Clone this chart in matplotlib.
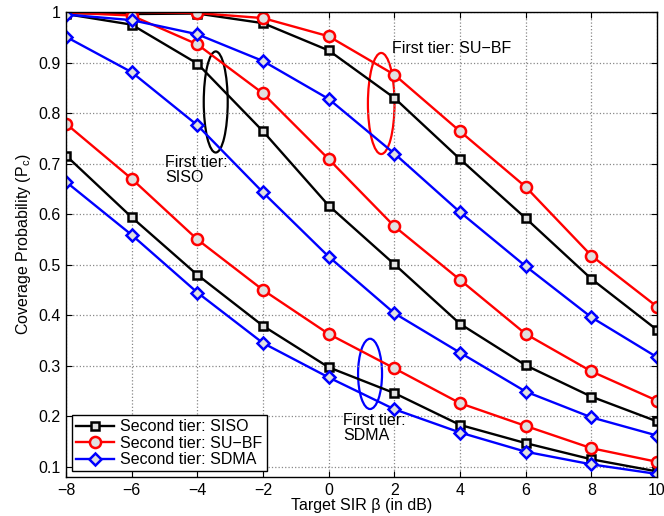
import matplotlib
matplotlib.use("Agg")
from matplotlib import pyplot as plt
from matplotlib.patches import Ellipse

plt.rcParams['font.family'] = ['Liberation Sans', 'DejaVu Sans']
plt.rcParams['mathtext.fontset'] = 'custom'
plt.rcParams['mathtext.rm'] = 'Liberation Sans'

sir_db = [-8, -6, -4, -2, 0, 2, 4, 6, 8, 10]

# first tier (top group of each colour), middle, second tier (bottom)
siso_top = [0.998, 0.996, 0.997, 0.978, 0.924, 0.830, 0.709, 0.592, 0.472, 0.371]
siso_mid = [0.996, 0.975, 0.898, 0.764, 0.617, 0.501, 0.383, 0.301, 0.239, 0.190]
siso_low = [0.716, 0.594, 0.480, 0.379, 0.297, 0.246, 0.183, 0.147, 0.115, 0.091]

subf_top = [1.000, 1.000, 0.998, 0.988, 0.952, 0.876, 0.764, 0.654, 0.518, 0.417]
subf_mid = [0.999, 0.993, 0.936, 0.839, 0.709, 0.576, 0.470, 0.363, 0.289, 0.231]
subf_low = [0.779, 0.670, 0.550, 0.450, 0.363, 0.295, 0.226, 0.181, 0.137, 0.110]

sdma_top = [0.995, 0.984, 0.956, 0.903, 0.828, 0.720, 0.604, 0.497, 0.396, 0.317]
sdma_mid = [0.951, 0.881, 0.776, 0.643, 0.516, 0.404, 0.326, 0.249, 0.198, 0.162]
sdma_low = [0.664, 0.559, 0.445, 0.345, 0.277, 0.214, 0.168, 0.130, 0.105, 0.086]

face = '#e0e0e0'
fs = 11.5
styles = [('k', 's', 6), ('r', 'o', 8), ('b', 'D', 6.5)]
groups = [
    ([siso_top, siso_mid, siso_low], 'Second tier: SISO'),
    ([subf_top, subf_mid, subf_low], 'Second tier: SU\u2212BF'),
    ([sdma_top, sdma_mid, sdma_low], 'Second tier: SDMA'),
]

fig = plt.figure(figsize=(6.64, 5.16), dpi=100)
ax = fig.add_axes([0.0994, 0.0756, 0.8901, 0.9011])

handles = []
for (curves, label), (col, mk, ms) in zip(groups, styles):
    for i, ys in enumerate(curves):
        h, = ax.plot(sir_db, ys, color=col, marker=mk, markersize=ms,
                     markerfacecolor=face, markeredgewidth=1.8, linewidth=1.7,
                     label=label if i == 2 else None)
        if i == 2:
            handles.append(h)

ax.add_patch(Ellipse((-3.44, 0.822), 0.73, 0.20, fill=False, edgecolor='k', linewidth=1.6))
ax.add_patch(Ellipse((1.6, 0.819), 0.81, 0.20, fill=False, edgecolor='r', linewidth=1.6))
ax.add_patch(Ellipse((1.26, 0.284), 0.73, 0.139, fill=False, edgecolor='b', linewidth=1.6))

ax.text(-4.98, 0.718, 'First tier:\nSISO', fontsize=fs, va='top', ha='left', linespacing=1.05)
ax.text(1.94, 0.928, 'First tier: SU\u2212BF', fontsize=fs, va='center', ha='left')
ax.text(0.45, 0.207, 'First tier:\nSDMA', fontsize=fs, va='top', ha='left', linespacing=1.05)

ax.set_xlim(-8, 10)
ax.set_ylim(0.08, 1.0)
ax.set_xticks(sir_db)
ax.set_yticks([0.1, 0.2, 0.3, 0.4, 0.5, 0.6, 0.7, 0.8, 0.9, 1.0])
ax.set_yticklabels(['0.1', '0.2', '0.3', '0.4', '0.5', '0.6', '0.7', '0.8', '0.9', '1'])
ax.set_xticklabels(['\u22128', '\u22126', '\u22124', '\u22122', '0', '2', '4', '6', '8', '10'])
ax.tick_params(direction='in', top=True, right=True, labelsize=fs, length=4, pad=4)
ax.grid(True, linestyle=':', color='#888888', linewidth=0.9)
for s in ax.spines.values():
    s.set_linewidth(1.0)

ax.set_xlabel('Target SIR \u03b2 (in dB)', fontsize=fs, labelpad=0)
ax.set_ylabel('Coverage Probability (P$_\\mathrm{c}$)', fontsize=fs, labelpad=4)

leg = ax.legend(handles=handles, loc='lower left', fontsize=fs, frameon=True,
                fancybox=False, framealpha=1, edgecolor='k', borderpad=0.25,
                handlelength=2.4, handletextpad=0.4, labelspacing=0.1,
                borderaxespad=0.35)
leg.get_frame().set_linewidth(1.0)

fig.savefig('out.png', dpi=100)
